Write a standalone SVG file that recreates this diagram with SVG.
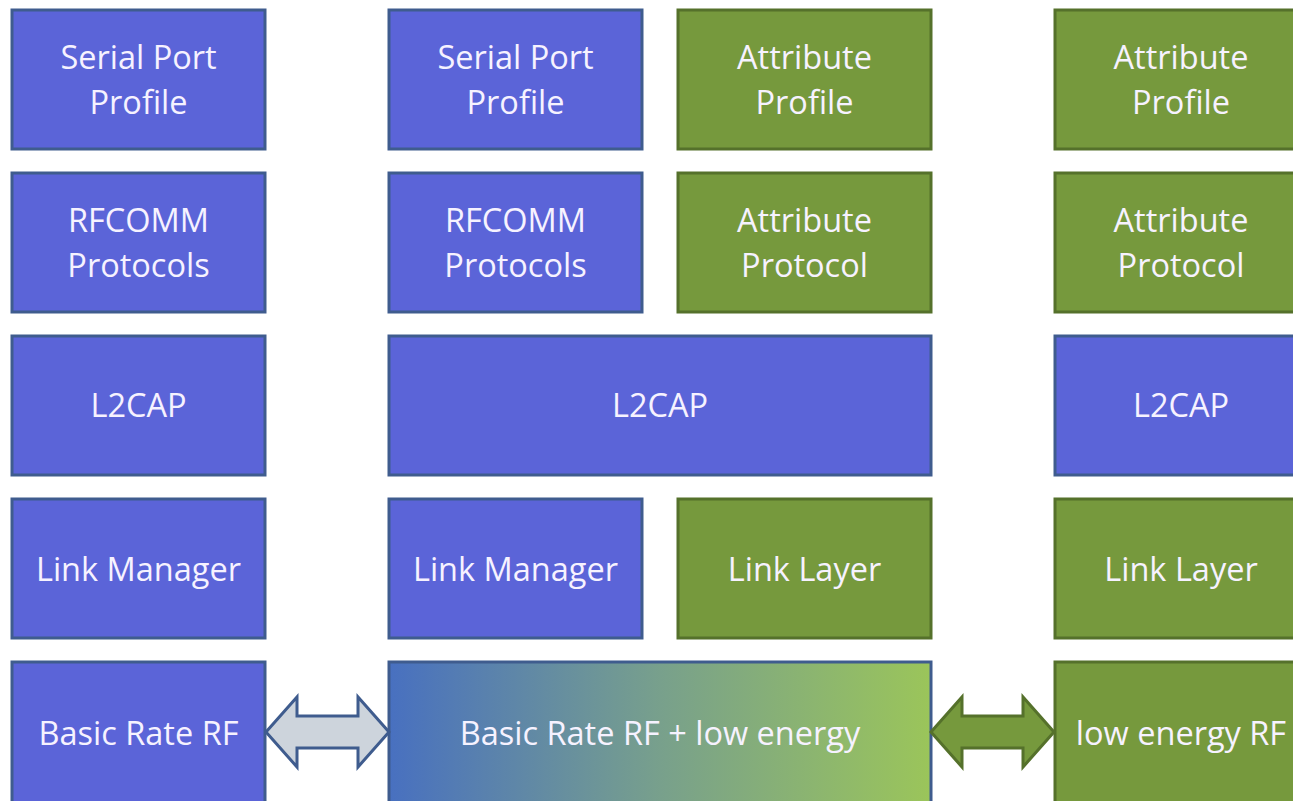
<svg xmlns="http://www.w3.org/2000/svg" width="1293" height="801" viewBox="0 0 1293 801">
<style>
.b{fill:#5B64D8;stroke:#3F5C8E;stroke-width:3}
.g{fill:#76993D;stroke:#55712B;stroke-width:3}
text{font-family:"Open Sans","Noto Sans",sans-serif;font-size:32.5px;fill:#F6F2FF;text-anchor:middle}
</style>
<defs>
<linearGradient id="grad" x1="0" y1="0" x2="1" y2="0">
<stop offset="0" stop-color="#4870C0"/>
<stop offset="0.5" stop-color="#78A08C"/>
<stop offset="1" stop-color="#9BC55A"/>
</linearGradient>
</defs>
<rect width="1293" height="801" fill="#FFFFFF"/>
<g id="c1-spp"><rect class="b" x="12" y="10" width="253" height="139"/><text x="138.5" y="69">Serial Port</text><text x="138.5" y="114">Profile</text></g>
<g id="c1-rfcomm"><rect class="b" x="12" y="173" width="253" height="139"/><text x="138.5" y="232">RFCOMM</text><text x="138.5" y="277">Protocols</text></g>
<g id="c1-l2cap"><rect class="b" x="12" y="336" width="253" height="139"/><text x="138.5" y="417">L2CAP</text></g>
<g id="c1-lm"><rect class="b" x="12" y="499" width="253" height="139"/><text x="138.5" y="581">Link Manager</text></g>
<g id="c1-br"><rect class="b" x="12" y="662" width="253" height="145"/><text x="138.5" y="745">Basic Rate RF</text></g>

<g id="c2-spp"><rect class="b" x="389" y="10" width="253" height="139"/><text x="515.5" y="69">Serial Port</text><text x="515.5" y="114">Profile</text></g>
<g id="c2-rfcomm"><rect class="b" x="389" y="173" width="253" height="139"/><text x="515.5" y="232">RFCOMM</text><text x="515.5" y="277">Protocols</text></g>
<g id="c3-ap"><rect class="g" x="678" y="10" width="253" height="139"/><text x="804.5" y="69">Attribute</text><text x="804.5" y="114">Profile</text></g>
<g id="c3-aprot"><rect class="g" x="678" y="173" width="253" height="139"/><text x="804.5" y="232">Attribute</text><text x="804.5" y="277">Protocol</text></g>
<g id="c2-l2cap"><rect class="b" x="389" y="336" width="542" height="139"/><text x="660" y="417">L2CAP</text></g>
<g id="c2-lm"><rect class="b" x="389" y="499" width="253" height="139"/><text x="515.5" y="581">Link Manager</text></g>
<g id="c3-ll"><rect class="g" x="678" y="499" width="253" height="139"/><text x="804.5" y="581">Link Layer</text></g>
<g id="c2-brle"><rect x="389" y="662" width="542" height="145" fill="url(#grad)" stroke="#3F5C8E" stroke-width="3"/><text x="660" y="745">Basic Rate RF + low energy</text></g>

<g id="c4-ap"><rect class="g" x="1055" y="10" width="253" height="139"/><text x="1181" y="69">Attribute</text><text x="1181" y="114">Profile</text></g>
<g id="c4-aprot"><rect class="g" x="1055" y="173" width="253" height="139"/><text x="1181" y="232">Attribute</text><text x="1181" y="277">Protocol</text></g>
<g id="c4-l2cap"><rect class="b" x="1055" y="336" width="253" height="139"/><text x="1181" y="417">L2CAP</text></g>
<g id="c4-ll"><rect class="g" x="1055" y="499" width="253" height="139"/><text x="1181" y="581">Link Layer</text></g>
<g id="c4-le"><rect class="g" x="1055" y="662" width="253" height="145"/><text x="1181" y="745">low energy RF</text></g>

<g id="connectors" stroke-width="3" stroke-linejoin="miter">
<path d="M266,732 L297,697 L297,716 L358,716 L358,697 L389,732 L358,767 L358,748 L297,748 L297,767 Z" fill="#CDD4DC" stroke="#3F5C8E"/>
<path d="M931,732 L962,697 L962,716 L1023,716 L1023,697 L1054,732 L1023,767 L1023,748 L962,748 L962,767 Z" fill="#76993D" stroke="#55712B"/>
</g>
</svg>
